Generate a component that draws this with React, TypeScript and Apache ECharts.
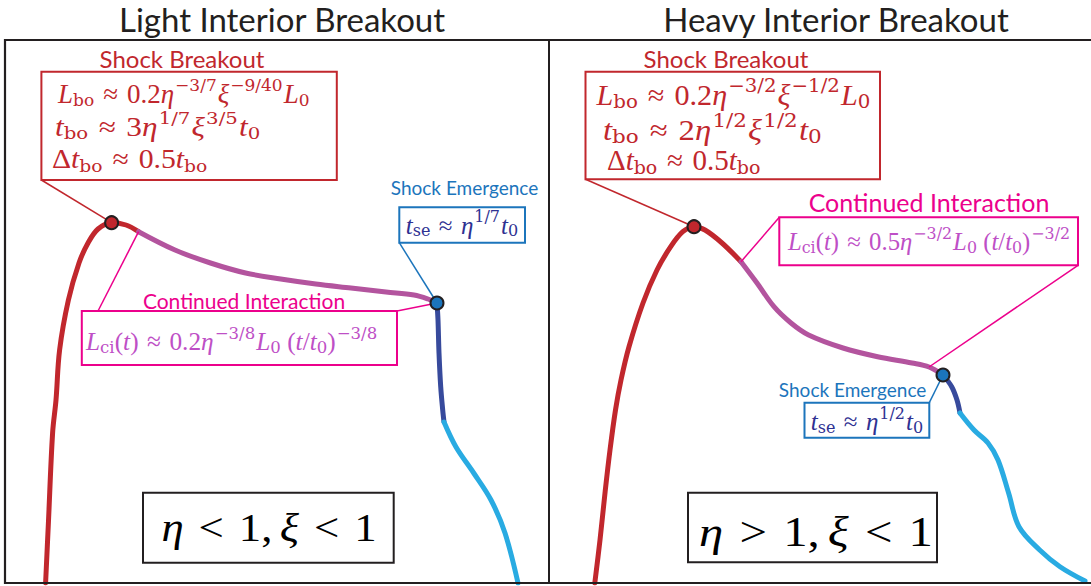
import React, { useEffect, useRef } from "react";
import * as echarts from "echarts";

const SANS = "Lato, 'Open Sans', sans-serif";
const SERIF = "'Liberation Serif', 'DejaVu Serif', serif";
const SMALL = "'DejaVu Serif', 'Liberation Serif', serif";

const RED = "#c1272d";
const PURPLE = "#b3549e";
const DBLUE = "#374a9c";
const LBLUE = "#29abe2";
const DOTBLUE = "#1b75bc";
const MAGENTA = "#ec008c";
const EMBLUE = "#1c75bc";
const VIOLET = "#be4fc6";
const NAVY = "#2e3192";
const INK = "#231f20";

// ---- texts ----
const panelTitles = ["Light Interior Breakout", "Heavy Interior Breakout"];
const breakoutLabel = "Shock Breakout";
const emergenceLabel = "Shock Emergence";
const interactionLabel = "Continued Interaction";

const AP = "\u2004≈\u2004";
const lightBreakoutLines = [
  `{m|L}{b|bo}{r|${AP}0.2}{m|η}{p|−3/7}{m|ξ}{p|−9/40}{m|L}{b|0}`,
  `{m|t}{b|bo}{r|${AP}3}{m|η}{p|1/7}{m|ξ}{p|3/5}{m|t}{b|0}`,
  `{r|Δ}{m|t}{b|bo}{r|${AP}0.5}{m|t}{b|bo}`,
];
const heavyBreakoutLines = [
  `{m|L}{b|bo}{r|${AP}0.2}{m|η}{p|−3/2}{m|ξ}{p|−1/2}{m|L}{b|0}`,
  `{m|t}{b|bo}{r|${AP}2}{m|η}{p|1/2}{m|ξ}{p|1/2}{m|t}{b|0}`,
  `{r|Δ}{m|t}{b|bo}{r|${AP}0.5}{m|t}{b|bo}`,
];
const lightEmergence = `{m|t}{b|se}{r|${AP}}{m|η}{p|1/7}{m|t}{b|0}`;
const heavyEmergence = `{m|t}{b|se}{r|${AP}}{m|η}{p|1/2}{m|t}{b|0}`;
const lightInteraction =
  `{m|L}{b|ci}{r|(}{m|t}{r|)${AP}0.2}{m|η}{p|−3/8}{m|L}{b|0}{r| (}{m|t}{r|/}{m|t}{b|0}{r|)}{p|−3/8}`;
const heavyInteraction =
  `{m|L}{b|ci}{r|(}{m|t}{r|)${AP}0.5}{m|η}{p|−3/2}{m|L}{b|0}{r| (}{m|t}{r|/}{m|t}{b|0}{r|)}{p|−3/2}`;
const lightRegime = "{m|η}{r|\u2004<\u20041,\u2006}{m|ξ}{r|\u2004<\u20041}";
const heavyRegime = "{m|η}{r|\u2004>\u20041,\u2006}{m|ξ}{r|\u2004<\u20041}";

// ---- curve data: [time, luminosity] in arbitrary panel units ----
const lightRise = [
  [40.6, 0], [43.4, 60], [47.6, 150], [51, 183], [54.6, 233], [63.4, 283],
  [74, 320], [83, 340], [93, 354], [106.6, 360.3], [121, 358], [133.6, 351.3],
];
const lightInteract = [
  [133.6, 351.3], [170, 333], [205.5, 320], [240.6, 310], [275.7, 304],
  [310.8, 299], [346, 295], [381, 291], [409, 288], [423, 284], [432, 280],
];
const lightEmerge = [
  [432, 280], [433, 263], [434, 230], [435.7, 196.3], [437.7, 173], [439, 161],
];
const lightTail = [
  [439, 161], [451, 136], [468.7, 110], [486, 83], [500, 50], [513, 0],
];
const lightPeak = [106.6, 360.3];
const lightSe = [432, 280];

const heavyRise = [
  [45.8, 0], [51, 43], [56, 90], [61, 133], [66.5, 173], [72, 203], [80, 236.3],
  [94, 280], [108, 313], [121.7, 336.3], [133.8, 351.3], [145, 356.3],
  [156, 353], [173, 340], [192, 321.3],
];
const heavyInteract = [
  [192, 321.3], [208, 300], [225, 276.3], [242, 260], [259.6, 248], [294, 235],
  [328.6, 226.3], [363, 220], [380, 216], [394, 208],
];
const heavyEmerge = [[394, 208], [402.7, 196.3], [408, 183], [411, 170]];
const heavyTail = [
  [411, 170], [425, 153], [439, 140], [449, 123], [459.6, 90], [470, 56.3],
  [490.7, 33], [511, 16.3], [536, 2],
];
const heavyPeak = [145, 356.3];
const heavySe = [394, 208];

// all tokens are top-aligned; their vertical offsets come from top padding
function rich(F: number, color: string) {
  const s = Math.round(F * 0.64);
  const pm = Math.round(F * 0.15);
  const pb = Math.round(F * 0.55);
  return {
    m: { fontFamily: SERIF, fontStyle: "italic", fontSize: F, lineHeight: F, verticalAlign: "top", padding: [pm, 0, 0, 0], fill: color },
    r: { fontFamily: SERIF, fontSize: F, lineHeight: F, verticalAlign: "top", padding: [pm, 0, 0, 0], fill: color },
    b: { fontFamily: SMALL, fontSize: s, lineHeight: s, verticalAlign: "top", padding: [pb, 0, 0, 0], fill: color },
    p: { fontFamily: SMALL, fontSize: s, lineHeight: s, verticalAlign: "top", padding: [0, 1, 0, 1], fill: color },
  };
}

const rectG = (x1: number, y1: number, x2: number, y2: number, color: string, w = 2) => ({
  type: "rect", z: 5, silent: true,
  shape: { x: x1, y: y1, width: x2 - x1, height: y2 - y1 },
  style: { fill: "none", stroke: color, lineWidth: w },
});
const lineG = (p1: number[], p2: number[], color: string, w = 1.5) => ({
  type: "line", z: 5, silent: true,
  shape: { x1: p1[0], y1: p1[1], x2: p2[0], y2: p2[1] },
  style: { stroke: color, lineWidth: w },
});
const labelG = (text: string, x: number, y: number, size: number, color: string) => ({
  type: "text", z: 6, silent: true, x, y,
  style: { text, fill: color, fontFamily: SANS, fontSize: size, align: "center", verticalAlign: "middle" },
});
const formulaG = (text: string, x: number, baseline: number, F: number, color: string, sx = 1, align = "left") => ({
  type: "text", z: 6, silent: true, x, y: baseline - 0.42 * F, scaleX: sx,
  style: { text, rich: rich(F, color), align, verticalAlign: "middle", fill: color, fontFamily: SERIF, fontSize: F },
});

export default function App() {
  const ref = useRef<HTMLDivElement>(null);
  useEffect(() => {
    if (!ref.current) return;
    const chart = echarts.init(ref.current, undefined, { renderer: "svg" });
    const seg = (data: number[][], color: string, gi: number) => ({
      type: "line", xAxisIndex: gi, yAxisIndex: gi, data, showSymbol: false, smooth: 0.35,
      lineStyle: { color, width: 5, cap: "round", join: "round" }, z: 2, silent: true,
    });
    const dot = (p: number[], color: string, gi: number) => ({
      type: "scatter", xAxisIndex: gi, yAxisIndex: gi, data: [p], symbolSize: 13, z: 20, silent: true,
      itemStyle: { color, borderColor: INK, borderWidth: 2, opacity: 1 },
    });
    chart.setOption({
      animation: false,
      backgroundColor: "#ffffff",
      grid: [
        { left: 5, top: 40, width: 544, height: 543 },
        { left: 549, top: 40, width: 542, height: 543 },
      ],
      xAxis: [
        { type: "value", gridIndex: 0, min: 0, max: 544, show: false },
        { type: "value", gridIndex: 1, min: 0, max: 542, show: false },
      ],
      yAxis: [
        { type: "value", gridIndex: 0, min: 0, max: 543, show: false },
        { type: "value", gridIndex: 1, min: 0, max: 543, show: false },
      ],
      series: [
        seg(lightRise, RED, 0), seg(lightInteract, PURPLE, 0), seg(lightEmerge, DBLUE, 0), seg(lightTail, LBLUE, 0),
        seg(heavyRise, RED, 1), seg(heavyInteract, PURPLE, 1), seg(heavyEmerge, DBLUE, 1), seg(heavyTail, LBLUE, 1),
        dot(lightPeak, RED, 0), dot(lightSe, DOTBLUE, 0), dot(heavyPeak, RED, 1), dot(heavySe, DOTBLUE, 1),
      ],
    });
    const px = (gi: number, p: number[]) => chart.convertToPixel({ gridIndex: gi }, p) as number[];
    const lPeak = px(0, lightPeak), lSe = px(0, lightSe), lTrans = px(0, lightInteract[0]);
    const hPeak = px(1, heavyPeak), hSe = px(1, heavySe), hTrans = px(1, heavyInteract[0]);
    const hNear = px(1, heavyInteract[heavyInteract.length - 2]);

    const graphic: any[] = [
      { type: "rect", z: 30, silent: true, shape: { x: 5, y: 40, width: 1090, height: 543 }, style: { fill: "none", stroke: INK, lineWidth: 2.2 } },
      lineG([549, 40], [549, 583], INK, 2),
      labelG(panelTitles[0], 282, 19, 33, INK),
      labelG(panelTitles[1], 836, 19, 33, INK),

      // ----- left panel -----
      labelG(breakoutLabel, 182, 58, 24, RED),
      rectG(41.4, 71.7, 336.8, 180, RED),
      lineG([41.4, 180], lPeak, RED),
      formulaG(lightBreakoutLines[0], 58, 101.7, 27, RED, 1.0),
      formulaG(lightBreakoutLines[1], 55, 134, 27, RED, 1.16),
      formulaG(lightBreakoutLines[2], 52, 166.7, 27, RED, 1.1),

      labelG(emergenceLabel, 464.5, 187, 19, EMBLUE),
      rectG(399.3, 207.3, 525, 242.7, EMBLUE),
      lineG([399.3, 242.7], lSe, EMBLUE),
      formulaG(lightEmergence, 462, 231.7, 25, NAVY, 1, "center"),

      labelG(interactionLabel, 244, 300.7, 21, MAGENTA),
      rectG(81.8, 311, 397, 365, MAGENTA),
      lineG([98, 311], lTrans, MAGENTA),
      lineG([397, 311], lSe, MAGENTA),
      formulaG(lightInteraction, 86, 348.3, 26, VIOLET, 0.975),

      rectG(143, 492.7, 393.7, 562.7, INK),
      formulaG(lightRegime, 269, 538, 40, "#000000", 1.12, "center"),

      // ----- right panel -----
      labelG(breakoutLabel, 726, 58, 24, RED),
      rectG(585.5, 71.7, 880, 179.3, RED),
      lineG([585.5, 179.3], hPeak, RED),
      formulaG(heavyBreakoutLines[0], 596.5, 103, 29, RED, 1.04),
      formulaG(heavyBreakoutLines[1], 603, 138, 29, RED, 1.13),
      formulaG(heavyBreakoutLines[2], 607, 168, 29, RED, 1.0),

      labelG(interactionLabel, 929, 201.7, 25, MAGENTA),
      rectG(779.3, 217.3, 1078, 265.3, MAGENTA),
      lineG([779.3, 217.3], hTrans, MAGENTA),
      lineG([1078, 265.3], hNear, MAGENTA),
      formulaG(heavyInteraction, 788, 248, 25, VIOLET, 0.99),

      labelG(emergenceLabel, 852.6, 389, 19, EMBLUE),
      rectG(804.5, 402.7, 929.3, 437.7, EMBLUE),
      lineG([929.3, 402.7], hSe, EMBLUE),
      formulaG(heavyEmergence, 867, 428, 25, NAVY, 1, "center"),

      rectG(688, 492.7, 937, 562.3, INK),
      formulaG(heavyRegime, 816, 543, 42, "#000000", 1.16, "center"),
    ];
    chart.setOption({ graphic });
    return () => chart.dispose();
  }, []);
  return (
    <div
      ref={ref}
      style={{ position: "fixed", left: 0, top: 0, width: 1091, height: 586, background: "#fff" }}
    />
  );
}
